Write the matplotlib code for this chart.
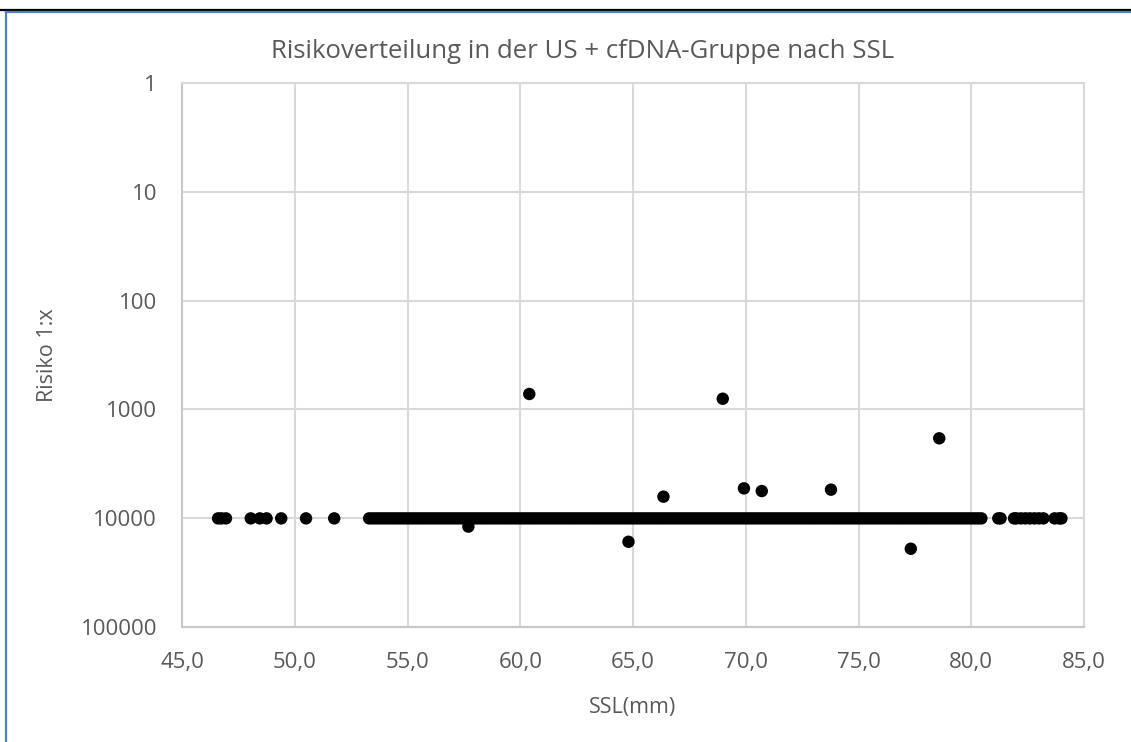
import matplotlib
matplotlib.use("Agg")
import matplotlib.pyplot as plt
from matplotlib.lines import Line2D
from matplotlib.ticker import FixedLocator, FixedFormatter

# ---- data -------------------------------------------------------------
title = "Risikoverteilung in der US + cfDNA-Gruppe nach SSL"
x_label = "SSL(mm)"
y_label = "Risiko 1:x"

# cases at the baseline risk of 1:10000 (SSL in mm)
base_ssl = [
    46.6, 46.75, 46.95, 48.05, 48.45, 48.75, 49.4, 50.5, 51.75,
    53.30, 53.45, 53.60, 53.75, 53.90, 54.05, 54.20, 54.35, 54.50, 54.65,
    54.80, 54.95, 55.10, 55.25, 55.40, 55.55, 55.70, 55.85, 56.00, 56.15,
    56.30, 56.45, 56.60, 56.75, 56.90, 57.05, 57.20, 57.35, 57.50, 57.65,
    57.80, 57.95, 58.10, 58.25, 58.40, 58.55, 58.70, 58.85, 59.00, 59.15,
    59.30, 59.45, 59.60, 59.75, 59.90, 60.05, 60.20, 60.35, 60.50, 60.65,
    60.80, 60.95, 61.10, 61.25, 61.40, 61.55, 61.70, 61.85, 62.00, 62.15,
    62.30, 62.45, 62.60, 62.75, 62.90, 63.05, 63.20, 63.35, 63.50, 63.65,
    63.80, 63.95, 64.10, 64.25, 64.40, 64.55, 64.70, 64.85, 65.00, 65.15,
    65.30, 65.45, 65.60, 65.75, 65.90, 66.05, 66.20, 66.35, 66.50, 66.65,
    66.80, 66.95, 67.10, 67.25, 67.40, 67.55, 67.70, 67.85, 68.00, 68.15,
    68.30, 68.45, 68.60, 68.75, 68.90, 69.05, 69.20, 69.35, 69.50, 69.65,
    69.80, 69.95, 70.10, 70.25, 70.40, 70.55, 70.70, 70.85, 71.00, 71.15,
    71.30, 71.45, 71.60, 71.75, 71.90, 72.05, 72.20, 72.35, 72.50, 72.65,
    72.80, 72.95, 73.10, 73.25, 73.40, 73.55, 73.70, 73.85, 74.00, 74.15,
    74.30, 74.45, 74.60, 74.75, 74.90, 75.05, 75.20, 75.35, 75.50, 75.65,
    75.80, 75.95, 76.10, 76.25, 76.40, 76.55, 76.70, 76.85, 77.00, 77.15,
    77.30, 77.45, 77.60, 77.75, 77.90, 78.05, 78.20, 78.35, 78.50, 78.65,
    78.80, 78.95, 79.10, 79.25, 79.40, 79.55, 79.70, 79.85, 80.00, 80.15,
    80.30, 80.45,
    81.2, 81.3, 81.9, 82.0, 82.2, 82.4, 82.6, 82.8, 83.0, 83.2, 83.7,
    83.9, 84.0,
]
base_risk = [10000] * len(base_ssl)

# individual cases off the baseline
other_ssl = [57.7, 60.4, 64.8, 66.35, 68.98, 69.92, 70.71, 73.78, 77.32, 78.58]
other_risk = [11900, 721, 16400, 6320, 797, 5300, 5610, 5450, 19000, 1840]

x_ticks = [45, 50, 55, 60, 65, 70, 75, 80, 85]
x_tick_labels = ["45,0", "50,0", "55,0", "60,0", "65,0", "70,0", "75,0", "80,0", "85,0"]
y_ticks = [1, 10, 100, 1000, 10000, 100000]
y_tick_labels = ["1", "10", "100", "1000", "10000", "100000"]

# ---- figure -----------------------------------------------------------
W, H = 1131, 742
fig = plt.figure(figsize=(W / 100, H / 100), dpi=100)
fig.patch.set_facecolor("white")

ax = fig.add_axes([182 / W, 1 - 627.3 / H, (1084 - 182) / W, (627.3 - 82.7) / H])

grid_col = "#d9d9d9"
txt_col = "#595959"

ax.scatter(base_ssl, base_risk, s=80, color="black", edgecolors="none", zorder=3)
ax.scatter(other_ssl, other_risk, s=80, color="black", edgecolors="none", zorder=3)

ax.set_yscale("log")
ax.set_ylim(100000, 1)
ax.set_xlim(45, 85)

ax.xaxis.set_major_locator(FixedLocator(x_ticks))
ax.xaxis.set_major_formatter(FixedFormatter(x_tick_labels))
ax.yaxis.set_major_locator(FixedLocator(y_ticks))
ax.yaxis.set_major_formatter(FixedFormatter(y_tick_labels))
ax.yaxis.set_minor_locator(FixedLocator([]))

ax.grid(True, color=grid_col, linewidth=1.5, zorder=0)
ax.set_axisbelow(True)
for sp in ax.spines.values():
    sp.set_color(grid_col)
    sp.set_linewidth(1.5)
ax.spines["left"].set_color("#c8c8c8")
ax.spines["bottom"].set_color("#c8c8c8")

font = "Open Sans"
ax.tick_params(axis="both", length=0, pad=18, labelsize=16, labelcolor=txt_col)
for lab in ax.get_xticklabels() + ax.get_yticklabels():
    lab.set_fontfamily(font)

ax.set_xlabel(x_label, fontsize=15.5, color=txt_col, fontfamily=font)
ax.xaxis.set_label_coords(0.5, -0.128)
ax.set_ylabel(y_label, fontsize=15.5, color=txt_col, fontfamily=font)
ax.yaxis.set_label_coords(-0.1375, 0.5)

fig.text(583 / W, 1 - 52 / H, title, ha="center", va="center",
         fontsize=18.5, color=txt_col, fontfamily=font)

# window frame lines (top black, blue selection border)
fig.add_artist(Line2D([0, 1], [1 - 10 / H, 1 - 10 / H], color="black", linewidth=1.6,
                      transform=fig.transFigure))
fig.add_artist(Line2D([5.5 / W, 1], [1 - 12 / H, 1 - 12 / H], color="#4f81bd", linewidth=1.6,
                      transform=fig.transFigure))
fig.add_artist(Line2D([5.5 / W, 5.5 / W], [0, 1 - 12 / H], color="#4f81bd", linewidth=1.6,
                      transform=fig.transFigure))

fig.savefig("out.png", dpi=100, facecolor="white")
